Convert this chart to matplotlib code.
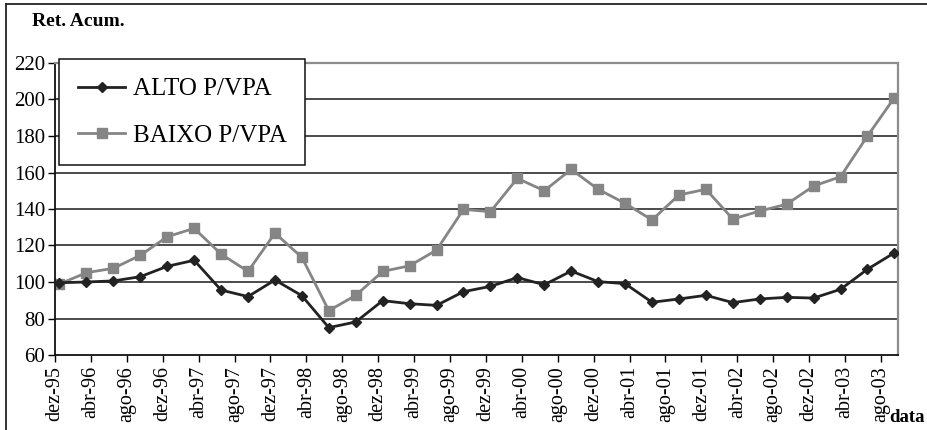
import numpy as np
import matplotlib
matplotlib.use('Agg')
import matplotlib.pyplot as plt
from matplotlib.lines import Line2D

plt.rcParams['font.family'] = ['Liberation Serif', 'DejaVu Serif']

# quarterly observations, dez-95 .. set-03 (months after dez-95, mid-month)
months = [0.5, 3.5, 6.5, 9.5, 12.5, 15.5, 18.5, 21.5, 24.5, 27.5, 30.5, 33.5,
          36.5, 39.5, 42.5, 45.5, 48.5, 51.5, 54.5, 57.5, 60.5, 63.5, 66.5, 69.5,
          72.5, 75.5, 78.5, 81.5, 84.5, 87.5, 90.5, 93.5]
alto = [99.6, 100, 100.6, 102.9, 108.6, 111.9, 95.6, 92, 101.1, 92.5, 75, 78.1,
        89.8, 88.1, 87.2, 94.7, 97.6, 102.4, 98.5, 106, 100.2, 99.1, 88.9, 90.7,
        92.7, 88.7, 90.7, 91.6, 91.2, 96, 107, 116]
baixo = [98.9, 105.1, 107.5, 114.6, 124.8, 129.4, 115.3, 105.8, 126.8, 113.5, 84.3, 92.7,
         105.8, 108.9, 117.5, 139.8, 138.5, 156.8, 150, 161.7, 150.8, 143.1, 134, 147.7,
         150.8, 134.5, 138.9, 142.6, 152.6, 157.7, 180, 201]
tick_labels = ['dez-95', 'abr-96', 'ago-96', 'dez-96', 'abr-97', 'ago-97', 'dez-97', 'abr-98',
               'ago-98', 'dez-98', 'abr-99', 'ago-99', 'dez-99', 'abr-00', 'ago-00', 'dez-00',
               'abr-01', 'ago-01', 'dez-01', 'abr-02', 'ago-02', 'dez-02', 'abr-03', 'ago-03']
tick_pos = [4 * i for i in range(len(tick_labels))]

fig = plt.figure(figsize=(9.27, 4.30), dpi=100)
ax = fig.add_axes([55/927, 1-355/430, (898-55)/927, (355-63)/430])

# grid lines
for v in [80, 100, 120, 140, 160, 180, 200]:
    ax.axhline(v, color='#1a1a1a', lw=1.1, zorder=1)

ax.plot(months, alto, color='#222222', lw=2, marker='D', ms=5.5,
        mfc='#222222', mec='#222222', label='ALTO P/VPA', zorder=3)
ax.plot(months, baixo, color='#858585', lw=2, marker='s', ms=7.5,
        mfc='#858585', mec='#858585', label='BAIXO P/VPA', zorder=2)

ax.set_xlim(0, 93.9)
ax.set_ylim(60, 220)
ax.set_yticks(range(60, 221, 20))
ax.set_xticks(tick_pos)
ax.set_xticklabels(tick_labels, rotation=90, fontsize=14.5)
ax.tick_params(axis='y', labelsize=15, direction='out', length=5, width=1, pad=2)
ax.tick_params(axis='x', direction='out', length=5, width=1, pad=3)

for s in ['top', 'right']:
    ax.spines[s].set_color('#8c8c8c')
    ax.spines[s].set_linewidth(1.6)
for s in ['left', 'bottom']:
    ax.spines[s].set_color('#111111')
    ax.spines[s].set_linewidth(1.3)

leg = ax.legend(loc='upper left', bbox_to_anchor=(59/927, 1-59/430),
                bbox_transform=fig.transFigure, fontsize=18, frameon=True,
                fancybox=False, edgecolor='#111111', framealpha=1,
                handlelength=1.9, handletextpad=0.3, labelspacing=0.95,
                borderpad=0.75, borderaxespad=0)
leg.get_frame().set_linewidth(1.1)
leg.set_zorder(5)

fig.text(32/927, 1-22/430, 'Ret. Acum.', fontsize=14, fontweight='bold',
         ha='left', va='center')
fig.text(925/927, 1-418/430, 'data', fontsize=13.5, fontweight='bold',
         ha='right', va='center')

# outer frame (left and top edges visible)
fig.add_artist(Line2D([6/927, 6/927], [0, 1-4/430], color='#222222', lw=1.3,
                      transform=fig.transFigure))
fig.add_artist(Line2D([6/927, 1], [1-4/430, 1-4/430], color='#222222', lw=1.3,
                      transform=fig.transFigure))

fig.savefig('out.png', dpi=100, facecolor='white')
